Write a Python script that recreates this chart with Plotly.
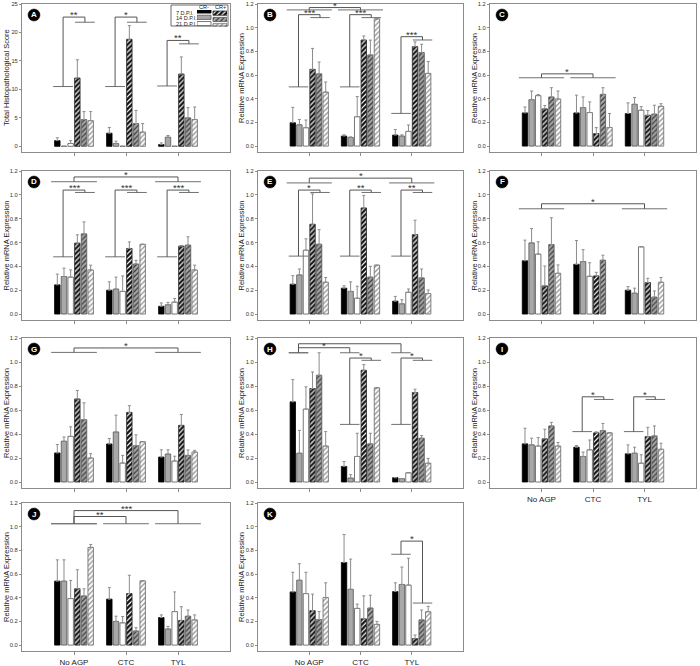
import plotly.graph_objects as go

W, H = 700, 666
GROUPS = ["No AGP", "CTC", "TYL"]
X_POS = [1, 2, 3]
SERIES = ["CR- 7 D.P.I.", "CR- 14 D.P.I.", "CR- 21 D.P.I.",
          "CR+ 7 D.P.I.", "CR+ 14 D.P.I.", "CR+ 21 D.P.I."]
LEGEND_ROWS = ["7 D.P.I.", "14 D.P.I.", "21 D.P.I."]
LEGEND_COLS = ["CR-", "CR+"]

# values: one row per series (CR-7, CR-14, CR-21, CR+7, CR+14, CR+21), columns = groups
A_mean = [[1.0, 2.3, 0.3], [0.0, 0.5, 1.6], [0.5, 0.0, 0.0],
          [12.0, 18.8, 12.7], [4.7, 4.0, 5.0], [4.5, 2.5, 4.7]]
A_err = [[0.5, 1.0, 0.3], [0, 0.4, 0.3], [0.5, 0, 0],
         [3.2, 2.4, 3.0], [1.4, 2.3, 1.8], [1.6, 1.5, 2.2]]
B_mean = [[0.197, 0.085, 0.093], [0.18, 0.073, 0.085], [0.155, 0.248, 0.124],
          [0.648, 0.896, 0.84], [0.61, 0.77, 0.79], [0.456, 1.075, 0.614]]
B_err = [[0.13, 0.01, 0.047], [0.045, 0.005, 0.01], [0.065, 0.17, 0.054],
         [0.177, 0.034, 0.04], [0.1, 0.125, 0.07], [0.085, 0, 0.1]]
C_mean = [[0.28, 0.28, 0.275], [0.392, 0.325, 0.353], [0.426, 0.283, 0.303],
          [0.314, 0.106, 0.26], [0.415, 0.437, 0.27], [0.398, 0.157, 0.336]]
C_err = [[0.05, 0.15, 0.09], [0.073, 0.09, 0.057], [0.01, 0.09, 0.03],
         [0.028, 0.05, 0.04], [0.078, 0.056, 0.075], [0.067, 0.118, 0.022]]
D_mean = [[0.245, 0.2, 0.065], [0.315, 0.21, 0.078], [0.31, 0.19, 0.1],
          [0.595, 0.55, 0.57], [0.673, 0.42, 0.578], [0.37, 0.585, 0.37]]
D_err = [[0.09, 0.07, 0.028], [0.07, 0.1, 0.02], [0.06, 0.13, 0.03],
         [0.07, 0.055, 0.005], [0.1, 0.03, 0.07], [0.04, 0, 0.04]]
E_mean = [[0.25, 0.217, 0.108], [0.328, 0.19, 0.086], [0.536, 0.133, 0.183],
          [0.753, 0.89, 0.667], [0.586, 0.31, 0.303], [0.267, 0.41, 0.172]]
E_err = [[0.072, 0.02, 0.04], [0.05, 0.08, 0.034], [0.095, 0.1, 0.027],
         [0.255, 0.105, 0.12], [0.122, 0.09, 0.075], [0.04, 0, 0.03]]
F_mean = [[0.447, 0.417, 0.2], [0.597, 0.44, 0.175], [0.503, 0.317, 0.564],
          [0.236, 0.32, 0.264], [0.583, 0.452, 0.142], [0.342, None, 0.267]]
F_err = [[0.173, 0.2, 0.03], [0.12, 0.1, 0.042], [0.103, 0.113, 0],
         [0.167, 0.03, 0.036], [0.225, 0.042, 0.052], [0.07, None, 0.04]]
G_mean = [[0.242, 0.317, 0.208], [0.34, 0.417, 0.233], [0.38, 0.158, 0.175],
          [0.692, 0.58, 0.472], [0.52, 0.303, 0.222], [0.2, 0.336, 0.25]]
G_err = [[0.07, 0.045, 0.06], [0.035, 0.14, 0.035], [0.08, 0.064, 0.04],
         [0.07, 0.056, 0.09], [0.14, 0.09, 0.045], [0.036, 0, 0.014]]
H_mean = [[0.668, 0.13, 0.036], [0.24, 0.033, 0.028], [0.608, 0.213, 0.077],
          [0.779, 0.931, 0.746], [0.89, 0.318, 0.365], [0.3, 0.785, 0.157]]
H_err = [[0.185, 0.04, 0], [0.19, 0.028, 0], [0.185, 0.193, 0],
         [0.138, 0.047, 0.027], [0.187, 0.088, 0.022], [0.12, 0, 0.04]]
I_mean = [[0.318, 0.29, 0.235], [0.31, 0.213, 0.24], [0.3, 0.268, 0.157],
          [0.36, 0.41, 0.378], [0.467, 0.428, 0.384], [0.3, 0.41, 0.273]]
I_err = [[0.13, 0.014, 0.074], [0.055, 0.036, 0.05], [0.07, 0.082, 0.07],
         [0.08, 0.008, 0.078], [0.03, 0.06, 0.083], [0.03, 0, 0.05]]
J_mean = [[0.54, 0.388, 0.233], [0.54, 0.2, 0.136], [0.393, 0.188, 0.283],
          [0.476, 0.435, 0.208], [0.415, 0.119, 0.244], [0.825, 0.543, 0.213]]
J_err = [[0.18, 0.097, 0.022], [0.18, 0.044, 0.022], [0.153, 0.053, 0.166],
         [0.16, 0.155, 0.116], [0.06, 0.028, 0.052], [0.025, 0, 0.042]]
K_mean = [[0.449, 0.698, 0.452], [0.548, 0.471, 0.512], [0.435, 0.31, 0.507],
          [0.291, 0.222, 0.055], [0.216, 0.313, 0.213], [0.402, 0.175, 0.282]]
K_err = [[0.166, 0.236, 0.074], [0.139, 0.255, 0.147], [0.18, 0.036, 0.227],
         [0.139, 0.194, 0.03], [0.067, 0.108, 0.083], [0.124, 0.025, 0.045]]

# significance brackets: (group L, part L, line y L, group R, part R, line y R, top y, label)
# part: 'm' = CR- bars, 'p' = CR+ bars, 'a' = whole group
A_sig = [(1, 'm', 10.5, 1, 'p', 21.8, 22.7, '**'), (2, 'm', 10.5, 2, 'p', 21.8, 22.7, '*'),
         (3, 'm', 10.6, 3, 'p', 18.0, 18.6, '**')]
B_sig = [(1, 'm', 0.5, 1, 'p', 1.085, 1.11, '***'), (2, 'm', 0.5, 2, 'p', 1.085, 1.11, '***'),
         (3, 'm', 0.276, 3, 'p', 0.896, 0.924, '***'), (1, 'a', 1.15, 2, 'a', 1.15, 1.17, '*')]
C_sig = [(1, 'a', 0.577, 2, 'a', 0.577, 0.61, '*')]
D_sig = [(1, 'm', 0.48, 1, 'p', 1.02, 1.04, '***'), (2, 'm', 0.48, 2, 'p', 1.02, 1.04, '***'),
         (3, 'm', 0.48, 3, 'p', 1.02, 1.04, '***'), (1, 'a', 1.11, 3, 'a', 1.11, 1.15, '*')]
E_sig = [(1, 'm', 0.486, 1, 'p', 1.02, 1.04, '*'), (2, 'm', 0.486, 2, 'p', 1.02, 1.04, '**'),
         (3, 'm', 0.486, 3, 'p', 1.02, 1.04, '**'), (1, 'a', 1.1, 3, 'a', 1.1, 1.14, '*')]
F_sig = [(1, 'a', 0.883, 3, 'a', 0.883, 0.925, '*')]
G_sig = [(1, 'a', 1.08, 3, 'a', 1.08, 1.117, '*')]
H_sig = [(1, 'm', 1.077, 3, 'm', 1.077, 1.152, ''), (1, 'm', 1.077, 2, 'm', 1.077, 1.119, '*'),
         (2, 'm', 0.48, 2, 'p', 1.014, 1.033, '*'), (3, 'm', 0.48, 3, 'p', 1.014, 1.033, '*')]
I_sig = [(2, 'm', 0.42, 2, 'p', 0.688, 0.71, '*'), (3, 'm', 0.42, 3, 'p', 0.688, 0.71, '*')]
J_sig = [(1, 'a', 1.025, 2, 'a', 1.025, 1.086, '**'), (1, 'a', 1.025, 3, 'a', 1.025, 1.136, '***')]
K_sig = [(3, 'm', 0.767, 3, 'p', 0.355, 0.878, '*')]

MRNA = "Relative mRNA Expression"
PANELS = [
    ("A", A_mean, A_err, A_sig, "Total Histopathological Score", [-1, 25], 5, "d"),
    ("B", B_mean, B_err, B_sig, MRNA, [-0.05, 1.2], 0.2, ".1f"),
    ("C", C_mean, C_err, C_sig, MRNA, [-0.05, 1.2], 0.2, ".1f"),
    ("D", D_mean, D_err, D_sig, MRNA, [-0.05, 1.2], 0.2, ".1f"),
    ("E", E_mean, E_err, E_sig, MRNA, [-0.05, 1.2], 0.2, ".1f"),
    ("F", F_mean, F_err, F_sig, MRNA, [-0.05, 1.2], 0.2, ".1f"),
    ("G", G_mean, G_err, G_sig, MRNA, [-0.05, 1.2], 0.2, ".1f"),
    ("H", H_mean, H_err, H_sig, MRNA, [-0.05, 1.2], 0.2, ".1f"),
    ("I", I_mean, I_err, I_sig, MRNA, [-0.05, 1.2], 0.2, ".1f"),
    ("J", J_mean, J_err, J_sig, MRNA, [-0.05, 1.2], 0.2, ".1f"),
    ("K", K_mean, K_err, K_sig, MRNA, [-0.05, 1.2], 0.2, ".1f"),
]
LABELLED = {"I", "J", "K"}

# layout geometry (pixels)
COLS_PX = [(22, 230), (258, 463), (490, 696)]
ROWS_PX = [(4, 152), (171, 320), (338, 488), (503, 651)]
YTITLE_X_PX = [6, 241, 474]

STYLES = [
    dict(bg="#000000", fg=None, edge="#000000"),
    dict(bg="#a8a8a8", fg=None, edge="#555555"),
    dict(bg="#ffffff", fg=None, edge="#555555"),
    dict(bg="#111111", fg="#ffffff", edge="#222222"),
    dict(bg="#a8a8a8", fg="#333333", edge="#555555"),
    dict(bg="#ffffff", fg="#8a8a8a", edge="#666666"),
]

FONT = "Liberation Sans, Arial, sans-serif"
AXC = "#8c8c8c"
TXT = "#333333"
BRK = "#555555"

fig = go.Figure()
layout = {}
shapes = []
annotations = []


def pattern_marker(st):
    m = dict(color=st["bg"], line=dict(color=st["edge"], width=0.8))
    if st["fg"]:
        m["pattern"] = dict(shape="/", fgcolor=st["fg"], bgcolor=st["bg"],
                            size=3.5, solidity=0.35, fillmode="replace")
    return m


def span(g, part):
    if part == 'm':
        return g - 0.40, g - 0.02, g - 0.21
    if part == 'p':
        return g + 0.02, g + 0.40, g + 0.21
    return g - 0.44, g + 0.44, g


for i, (letter, mean, err, sig, ytitle, yrng, ydt, yfmt) in enumerate(PANELS):
    r, c = divmod(i, 3)
    aid = "" if i == 0 else str(i + 1)
    xr, yr = "x" + aid, "y" + aid
    x0p, x1p = COLS_PX[c]
    y0p, y1p = ROWS_PX[r]
    for s in range(6):
        errs = [e if e is not None else 0 for e in err[s]]
        fig.add_trace(go.Bar(
            x=X_POS, y=mean[s], name=SERIES[s], marker=pattern_marker(STYLES[s]),
            error_y=dict(type="data", array=errs, arrayminus=[0] * len(errs),
                         symmetric=False, color=AXC, thickness=1, width=1.5),
            xaxis=xr, yaxis=yr, showlegend=False))
    layout["xaxis" + aid] = dict(
        domain=[x0p / W, x1p / W], anchor=yr, range=[0, 4], automargin=False,
        tickvals=X_POS, ticktext=GROUPS, showticklabels=letter in LABELLED,
        ticks="outside", ticklen=3, tickcolor=AXC, showline=True, mirror=True,
        linecolor=AXC, linewidth=1, showgrid=False, zeroline=False,
        tickfont=dict(size=8, color="#222222", family=FONT))
    layout["yaxis" + aid] = dict(
        domain=[1 - y1p / H, 1 - y0p / H], anchor=xr, range=yrng, dtick=ydt, tick0=0,
        tickformat=yfmt, ticks="outside", ticklen=2, tickcolor=AXC, showline=True,
        mirror=True, linecolor=AXC, linewidth=1, showgrid=False, zeroline=False,
        automargin=False, tickfont=dict(size=5.8, color=TXT, family=FONT))
    # y-axis title
    annotations.append(dict(x=YTITLE_X_PX[c] / W, y=1 - (y0p + y1p) / 2 / H, xref="paper",
                            yref="paper", text=ytitle, textangle=-90, showarrow=False,
                            xanchor="center", yanchor="middle",
                            font=dict(size=7.5, color="#222222", family=FONT)))
    # panel letter badge
    cx, cy = (x0p + 12) / W, 1 - (y0p + 11) / H
    shapes.append(dict(type="circle", xref="paper", yref="paper", xsizemode="pixel",
                       ysizemode="pixel", xanchor=cx, yanchor=cy, x0=-6, x1=6, y0=-6, y1=6,
                       fillcolor="#000000", line=dict(color="#000000", width=0.5),
                       layer="below"))
    annotations.append(dict(x=cx, y=cy, xref="paper", yref="paper", text="<b>%s</b>" % letter,
                            showarrow=False, xanchor="center", yanchor="middle",
                            font=dict(size=8, color="#ffffff", family=FONT)))
    # significance brackets
    for (gl, pl, yl, gr, pr, yrr, top, lab) in sig:
        la, lb, lx = span(gl, pl)
        ra, rb, rx = span(gr, pr)
        for (xa, ya, xb, yb, col) in [(la, yl, lb, yl, "#707070"), (ra, yrr, rb, yrr, "#707070"),
                                      (lx, yl, lx, top, BRK), (lx, top, rx, top, BRK),
                                      (rx, top, rx, yrr, BRK)]:
            shapes.append(dict(type="line", xref=xr, yref=yr, x0=xa, y0=ya, x1=xb, y1=yb,
                               line=dict(color=col, width=1)))
        if lab:
            annotations.append(dict(x=(lx + rx) / 2, y=top, xref=xr, yref=yr, text=lab,
                                    showarrow=False, xanchor="center", yanchor="bottom",
                                    yshift=-5, font=dict(size=9.5, color=TXT, family=FONT)))

# legend inside panel A (built from swatch bars on a small helper axis)
LEG_BOX_PX = (171, 5, 228, 26)
LEG_SW_X = [(0, 14), (16, 30)]
shapes.append(dict(type="rect", xref="paper", yref="paper",
                   x0=LEG_BOX_PX[0] / W, x1=LEG_BOX_PX[2] / W,
                   y0=1 - LEG_BOX_PX[3] / H, y1=1 - LEG_BOX_PX[1] / H,
                   line=dict(color="#444444", width=0.8)))
for s in range(6):
    col, row = divmod(s, 3)
    fig.add_trace(go.Bar(x=[LEG_SW_X[col][1] - LEG_SW_X[col][0]], y=[row],
                         base=[LEG_SW_X[col][0]], orientation="h", width=0.75,
                         marker=pattern_marker(STYLES[s]), xaxis="x12", yaxis="y12",
                         showlegend=False, hoverinfo="skip"))
layout["xaxis12"] = dict(domain=[197 / W, 227 / W], anchor="y12", range=[0, 30], visible=False)
layout["yaxis12"] = dict(domain=[1 - 26.8 / H, 1 - 10 / H], anchor="x12", range=[2.5, -0.5],
                         visible=False)
for k, t in enumerate(LEGEND_ROWS):
    annotations.append(dict(x=174 / W, y=1 - (12.7 + 5.65 * k) / H, xref="paper", yref="paper",
                            text=t, showarrow=False, xanchor="left", yanchor="middle",
                            font=dict(size=5.5, color="#222222", family=FONT)))
for k, t in enumerate(LEGEND_COLS):
    annotations.append(dict(x=(204 + 16 * k) / W, y=1 - 7.3 / H, xref="paper", yref="paper",
                            text=t, showarrow=False, xanchor="center", yanchor="middle",
                            font=dict(size=5.5, color="#222222", family=FONT)))

fig.update_layout(**layout)
fig.update_layout(width=W, height=H, margin=dict(l=0, r=0, t=0, b=0, pad=0),
                  paper_bgcolor="#ffffff", plot_bgcolor="rgba(0,0,0,0)",
                  barmode="group", bargap=0.23, bargroupgap=0.18,
                  shapes=shapes, annotations=annotations, showlegend=False,
                  font=dict(family=FONT))
fig.write_html("out.html", config={"displayModeBar": False},
               post_script="document.body.style.margin='0px';document.body.style.padding='0px';")
